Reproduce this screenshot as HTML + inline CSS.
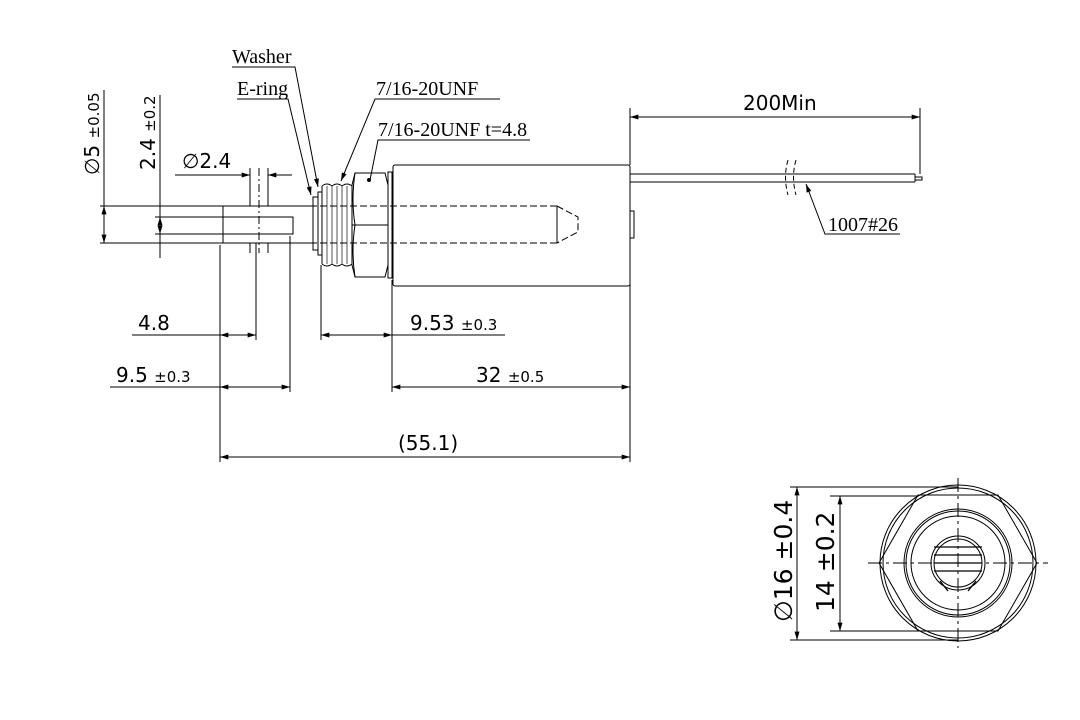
<!DOCTYPE html>
<html><head><meta charset="utf-8"><style>
html,body{margin:0;padding:0;background:#fff}
svg{display:block}
.s{font-family:"Liberation Serif",serif;font-size:20px;fill:#000}
.a{font-family:"DejaVu Sans","Liberation Sans",sans-serif;font-size:20px;fill:#000}
.sm{font-size:15px}
</style></head><body>
<svg width="1080" height="720" viewBox="0 0 1080 720" xmlns="http://www.w3.org/2000/svg">
<defs>
<marker id="ar" viewBox="0 0 10 6" refX="10" refY="3" markerWidth="10" markerHeight="5" orient="auto-start-reverse" markerUnits="userSpaceOnUse"><path d="M0,0 L10,3 L0,6z" fill="#000"/></marker>
</defs>
<g stroke="#000" stroke-width="1" fill="none">
<path d="M100,206 H313 M100,243 H313"/>
<path d="M223,206 V243"/>
<rect x="223" y="217" width="70" height="17"/>
<path d="M155,217 H223 M155,234 H223"/>
<path d="M259,168 V253" stroke-dasharray="8,3,2,3"/>
<path d="M250,168 V206 M268,168 V206 M250,243 V253 M268,243 V253"/>
<rect x="313" y="197" width="5" height="53"/>
<rect x="318" y="192" width="4" height="63"/>
<path d="M322,186 Q327,182 332,186 Q337,182 342,186 Q347,182 352,186 M322,264 Q327,268 332,264 Q337,268 342,264 Q347,268 352,264 M322,186 V264 M352,186 V264"/>
<path d="M327,186 V264 M332,186 V264 M337,186 V264 M342,186 V264 M347,186 V264" stroke="#555"/>
<path d="M355,173 H385 L388,185 V265 L385,277 H355 L352,265 V185Z"/>
<path d="M352,225 H388 M355,173 Q351,199 355,225 Q351,251 355,277"/>
<circle cx="369" cy="180" r="1.5" fill="#000"/>
<rect x="388" y="172" width="4" height="106"/>
<rect x="393" y="165" width="237" height="121" rx="2"/>
<path d="M300,206 H557 M300,243 H557 M557,206 L578,217 V232 L557,243" stroke-dasharray="7,3"/>
<path d="M557,206 V243"/>
<rect x="630" y="211" width="4" height="27"/>
<path d="M630,174 H915 M630,182 H915 M915,174 V182 M915,177 H922 V180 H915"/>
<path d="M788,160 Q783,177 788,195 M796,160 Q791,177 796,195" stroke-dasharray="5,3"/>
<path d="M220,245 V462 M256,243 V340 M290,236 V392 M321,265 V340 M392,280 V392 M630,282 V462 M630,108 V165 M920,108 V174"/>
<path d="M104,90 V206 M160,95 V258"/>
<path d="M104,206 V243" marker-start="url(#ar)" marker-end="url(#ar)"/>
<path d="M160,217 V234" marker-start="url(#ar)" marker-end="url(#ar)"/>
<path d="M175,175 H250" marker-end="url(#ar)"/><path d="M292,175 H268" marker-end="url(#ar)"/>
<path d="M132,335 H256" /><path d="M220,335 H256" marker-start="url(#ar)" marker-end="url(#ar)"/>
<path d="M321,335 H392 H505" /><path d="M321,335 H392" marker-start="url(#ar)" marker-end="url(#ar)"/>
<path d="M110,387 H290"/><path d="M220,387 H290" marker-start="url(#ar)" marker-end="url(#ar)"/>
<path d="M392,387 H630" marker-start="url(#ar)" marker-end="url(#ar)"/>
<path d="M220,457 H630" marker-start="url(#ar)" marker-end="url(#ar)"/>
<path d="M630,117 H920" marker-start="url(#ar)" marker-end="url(#ar)"/>
<path d="M232,67 H295 L318,187" marker-end="url(#ar)"/>
<path d="M237,99 H288 L311,195" marker-end="url(#ar)"/>
<path d="M500,99 H375 L341,181" marker-end="url(#ar)"/>
<path d="M530,140 H378 L370,180"/>
<path d="M900,234 H825 L806,184" marker-end="url(#ar)"/>
<g transform="translate(958,563)">
<circle r="78"/><circle r="75"/>
<path d="M-40,-68 H40 L79,0 L40,68 H-40 L-79,0Z"/>
<circle r="54"/><circle r="52"/><circle r="47"/>
<circle r="27"/><circle r="24"/>
<path d="M-24,-8 H24 M-24,0 H24 M-24,8 H24 M-24,-16 H24 M-18,18 L-10,28 M18,18 L10,28" stroke-width="1.3"/>
<path d="M-90,0 H90 M0,-85 V85" stroke-dasharray="14,4,3,4"/>
</g>
<path d="M790,487 H958 M790,640 H958 M830,496 H918 M830,631 H918"/>
<path d="M797,487 V640" marker-start="url(#ar)" marker-end="url(#ar)"/>
<path d="M840,496 V631" marker-start="url(#ar)" marker-end="url(#ar)"/>
</g>
<text class="s" x="232" y="63">Washer</text>
<text class="s" x="237" y="95">E-ring</text>
<text class="s" x="376" y="95">7/16-20UNF</text>
<text class="s" x="378" y="136">7/16-20UNF t=4.8</text>
<text class="s" x="828" y="231">1007#26</text>
<text class="a" x="743" y="110">200Min</text>
<text class="a" x="182" y="168">∅2.4</text>
<text class="a" x="138" y="330">4.8</text>
<text class="a" x="410" y="330">9.53 <tspan class="sm">±0.3</tspan></text>
<text class="a" x="116" y="382">9.5 <tspan class="sm">±0.3</tspan></text>
<text class="a" x="476" y="382">32 <tspan class="sm">±0.5</tspan></text>
<text class="a" x="398" y="450">(55.1)</text>
<text class="a" transform="translate(99,175) rotate(-90)">∅5 <tspan class="sm">±0.05</tspan></text>
<text class="a" transform="translate(155,170) rotate(-90)">2.4 <tspan class="sm">±0.2</tspan></text>
<text class="a" transform="translate(792,622) rotate(-90)" style="font-size:25px">∅16 ±0.4</text>
<text class="a" transform="translate(834,612) rotate(-90)" style="font-size:25px">14 ±0.2</text>
</svg>
</body></html>
